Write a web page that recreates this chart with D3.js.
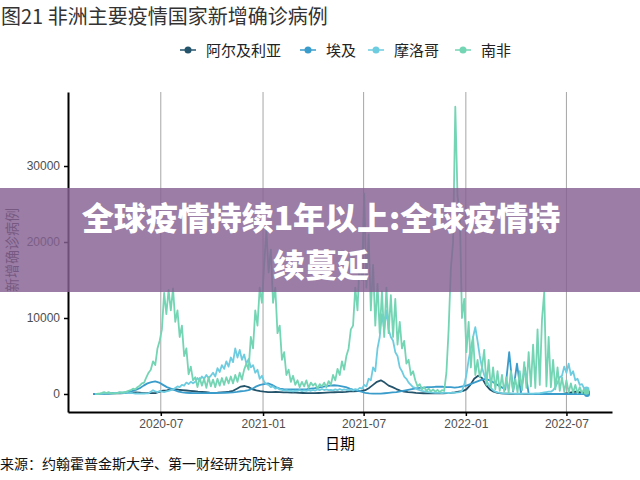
<!DOCTYPE html>
<html lang="zh">
<head>
  <meta charset="UTF-8">
  <title>图21 非洲主要疫情国家新增确诊病例</title>
  <script src="https://d3js.org/d3.v7.min.js"></script>
  <style>
    body { margin: 0; background: #fff; }
    svg { display: block; }
    .cjk { font-family: "Noto Sans CJK SC", sans-serif; }
    .tick text { font-family: "Liberation Sans", Arial, sans-serif; font-size: 12px; fill: #4d4d4d; }
  </style>
</head>
<body>
  <svg width="640" height="480"></svg>
  <script>
    // series names and colours (legend order)
    const countries = ["阿尔及利亚", "埃及", "摩洛哥", "南非"];
    const colors = ["#24546b", "#3a9ccb", "#6dcce0", "#74d5b4"];

    // Algeria / Egypt: one value per week starting 2020-03-01
    const weeklyStart = "2020-03-01";
    const algeriaCases = [
      0, 2, 10, 30, 50,  90, 100, 95, 130,  170, 180, 200, 190, 120,  110, 115, 120, 290,
      430, 480, 600, 650,  560, 520, 460, 410, 360,  300, 260, 230, 170,  150, 170, 210, 250,
      300, 420, 700, 980, 1050,  900, 620, 480, 380,
      300, 250, 240, 260, 240,  220, 200, 180, 170,  150, 130, 110, 110,  110, 130, 160, 190,
      210, 230, 240, 250, 280,  340, 360, 380, 400,  500, 800, 1200, 1600,  1800, 1500, 1100, 900, 650,
      450, 320, 250, 200,  150, 120, 100, 90, 85,  80, 85, 90, 110,  150, 200, 300, 380,
      600, 1200, 2000, 2400, 2100,  1200, 600, 300, 150,  80, 50, 30, 20,  15, 10, 8, 6,
      5, 5, 5, 6, 8,  10, 12, 20, 40,  100, 200, 300, 250, 200,  150
    ];
    const egyptCases = [
      0, 5, 20, 40, 60,  100, 130, 170, 190,  270, 380, 540, 750, 1100,  1400, 1550, 1650, 1500,
      1200, 900, 700, 500,  300, 200, 150, 130, 120,  120, 115, 120, 130,  130, 140, 150, 160,
      180, 220, 280, 360, 400,  500, 700, 1000, 1200,
      1300, 1400, 1200, 900, 700,  650, 620, 600, 600,  600, 620, 640, 700,  760, 850, 950, 1050,
      1100, 1150, 1100, 1000, 900,  700, 550, 450, 300,  150, 80, 60, 50,  60, 100, 150, 200, 250,
      350, 450, 550, 650,  750, 800, 850, 900, 900,  950, 950, 950, 900,  900, 850, 900, 1000,
      1100, 1300, 1500, 1700, 1900,  2000, 1800, 1500, 1200,  900, 600, 5500, 300,  4000, 150, 3500, 50,
      0, 0, 0, 0, 0,  0, 0, 0, 0,  0, 0, 0, 0, 0,  0
    ];

    // Morocco / South Africa: one value every 4 days starting 2020-03-05
    const fourDayStart = "2020-03-05";
    const moroccoCases = [
      0, 2, 10, 20, 40, 60, 80,
      100, 90, 160, 120, 150, 180, 130, 170,
      120, 150, 100, 60, 90, 50, 80,
      60, 90, 100, 300, 500, 330, 250, 400,
      300, 250, 350, 400, 500, 600, 800, 1000,
      900, 1200, 1100, 1500, 1300, 1600, 1400,
      1600, 2100, 1800, 2300, 2000, 2500, 2100, 2400,
      2800, 2300, 3400, 2900, 3800, 3300, 4300, 3600,
      4800, 4200, 6000, 4800, 5800, 4500, 5200,
      4000, 4600, 3500, 3800, 2800, 3200, 2000, 2400,
      1600, 1300, 1200, 900, 1000, 700, 800, 600,
      550, 450, 500, 400, 450, 350, 450,
      400, 500, 380, 480, 400, 500, 420,
      550, 450, 600, 500, 650, 520, 600, 500,
      550, 480, 600, 500, 650, 520, 600, 550,
      500, 600, 450, 650, 550, 800, 700,
      1200, 1000, 2000, 1800, 3500, 3000, 6000, 7500,
      10500, 8500, 11000, 8500, 7500, 7000, 5500, 5000,
      3500, 3000, 2300, 2000, 1500, 1200, 900,
      800, 600, 500, 400, 350, 300, 250, 200,
      180, 150, 150, 140, 130, 150, 140,
      130, 150, 160, 180, 200, 250, 400, 1200,
      2500, 4500, 6000, 7500, 8800, 7000, 5000, 3500,
      2500, 1800, 1200, 800, 500, 300, 200,
      150, 100, 80, 60, 50, 40, 40, 30,
      30, 30, 30, 40, 40, 50, 50,
      60, 70, 80, 100, 150, 200, 250, 300,
      300, 500, 900, 1500, 2200, 2400, 3600,
      2800, 4000, 2500, 3000, 1800, 2000, 1200, 1300,
      700, 600
    ];
    const southAfricaCases = [
      10, 30, 60, 150, 250, 120, 240,
      100, 90, 80, 110, 250, 160, 250, 300,
      400, 500, 700, 600, 900, 1100, 1400,
      1500, 2200, 2800, 3200, 4300, 3800, 6000, 7000,
      8500, 13300, 10500, 13700, 11000, 13900, 9500, 11000,
      7500, 9000, 5000, 6000, 2600, 3600, 1800,
      2200, 900, 2100, 1100, 2000, 800, 2200, 1000,
      1900, 900, 2000, 1100, 2100, 1200, 2200, 1400,
      2300, 1400, 2500, 1600, 2800, 1900, 3200,
      4000, 3200, 7500, 6000, 11000, 9000, 14000, 12000,
      17000, 21500, 16000, 19000, 12000, 14000, 8000, 9000,
      4500, 5500, 2500, 3200, 1600, 2400, 1200,
      1800, 900, 1600, 1000, 1800, 800, 1500,
      1100, 1400, 700, 1300, 1000, 1500, 900, 1700,
      1200, 2500, 1800, 3300, 2500, 4300, 3200, 5000,
      6000, 8500, 9000, 14000, 11000, 18000, 15000,
      26400, 14000, 21000, 11000, 17000, 9000, 14500, 8000,
      13500, 7500, 14000, 8000, 13000, 7500, 12500, 6500,
      9500, 6000, 7000, 4000, 4500, 2500, 3000,
      1800, 1000, 1300, 600, 900, 400, 700, 350,
      600, 300, 550, 250, 500, 400, 2800,
      8500, 16500, 20000, 37800, 26000, 24000, 10000, 12500,
      5500, 9500, 3500, 7500, 2500, 4500, 2200, 3500,
      5800, 1200, 4500, 800, 3500, 600, 3000,
      400, 2500, 300, 2200, 200, 3000, 400, 2000,
      200, 3000, 500, 4200, 800, 5500, 1000,
      6500, 800, 8500, 1200, 9800, 13400, 1000, 7500,
      900, 4500, 600, 3500, 400, 2200, 300,
      1800, 200, 1400, 150, 1200, 100, 900, 100,
      700, 300
    ];

    const xTickDates = ["2020-07-01", "2021-01-01", "2021-07-01", "2022-01-01", "2022-07-01"];
    const yTickValues = [0, 10000, 20000, 30000];

    const parse = d3.utcParse("%Y-%m-%d");
    function toPoints(start, stepDays, values) {
      const t0 = parse(start);
      return values.map((v, i) => ({ date: d3.utcDay.offset(t0, i * stepDays), value: v }));
    }
    const series = [
      toPoints(weeklyStart, 7, algeriaCases),
      toPoints(weeklyStart, 7, egyptCases),
      toPoints(fourDayStart, 4, moroccoCases),
      toPoints(fourDayStart, 4, southAfricaCases)
    ];

    const svg = d3.select("svg");
    const plotLeft = 68, plotRight = 612, plotTop = 92, plotBottom = 412;

    const x = d3.scaleUtc()
      .domain([parse("2020-01-16"), parse("2022-09-21")])
      .range([plotLeft, plotRight]);
    const y = d3.scaleLinear()
      .domain([-2370, 39740])
      .range([plotBottom, plotTop]);

    // title
    svg.append("text").attr("class", "cjk")
      .attr("x", 1).attr("y", 24)
      .style("font-size", "20px").style("fill", "#333")
      .text("图21 非洲主要疫情国家新增确诊病例");

    // vertical grid lines
    svg.append("g").selectAll("line")
      .data(xTickDates.map(parse))
      .join("line")
      .attr("x1", d => x(d)).attr("x2", d => x(d))
      .attr("y1", plotTop).attr("y2", plotBottom)
      .attr("stroke", "#a6a6a6").attr("stroke-width", 1);

    // lines
    const line = d3.line().x(d => x(d.date)).y(d => y(d.value));
    svg.append("g").selectAll("path")
      .data(series)
      .join("path")
      .attr("d", line)
      .attr("fill", "none")
      .attr("stroke", (d, i) => colors[i])
      .attr("stroke-width", 1.8)
      .attr("stroke-linejoin", "round");

    svg.append("g").selectAll("circle")
      .data(series)
      .join("circle")
      .attr("cx", d => x(d[d.length - 1].date))
      .attr("cy", d => y(d[d.length - 1].value))
      .attr("r", 3)
      .attr("fill", (d, i) => colors[i]);

    // axes
    const xAxis = svg.append("g")
      .attr("transform", `translate(0,${plotBottom})`)
      .call(d3.axisBottom(x).tickValues(xTickDates.map(parse))
        .tickFormat(d3.utcFormat("%Y-%m")).tickSize(4).tickSizeOuter(0).tickPadding(3));
    const yAxis = svg.append("g")
      .attr("transform", `translate(${plotLeft},0)`)
      .call(d3.axisLeft(y).tickValues(yTickValues).tickFormat(d3.format("d"))
        .tickSize(4).tickSizeOuter(0).tickPadding(4));
    [xAxis, yAxis].forEach(a => {
      a.select(".domain").attr("stroke", "#000").attr("stroke-width", 2);
      a.selectAll(".tick line").attr("stroke", "#000").attr("stroke-width", 1.5);
    });

    // axis titles
    svg.append("text").attr("class", "cjk")
      .attr("x", 340).attr("y", 449)
      .attr("text-anchor", "middle")
      .style("font-size", "15px").style("fill", "#000")
      .text("日期");
    svg.append("text").attr("class", "cjk")
      .attr("transform", "translate(17,250) rotate(-90)")
      .attr("text-anchor", "middle")
      .style("font-size", "14px").style("fill", "#333")
      .text("新增确诊病例");

    // legend
    const legendX = [180, 300, 368, 455];
    const legend = svg.append("g").selectAll("g")
      .data(countries)
      .join("g")
      .attr("transform", (d, i) => `translate(${legendX[i]},50)`);
    legend.append("line")
      .attr("x1", 0).attr("x2", 16)
      .attr("stroke", (d, i) => colors[i]).attr("stroke-width", 1.5);
    legend.append("circle")
      .attr("cx", 8).attr("r", 3.5)
      .attr("fill", (d, i) => colors[i]);
    legend.append("text").attr("class", "cjk")
      .attr("x", 26).attr("y", 5.5)
      .style("font-size", "15px").style("fill", "#222")
      .text(d => d);

    // source note
    svg.append("text").attr("class", "cjk")
      .attr("x", 0).attr("y", 469)
      .style("font-size", "14px").style("fill", "#111")
      .text("来源：约翰霍普金斯大学、第一财经研究院计算");

    // overlay banner
    svg.append("rect")
      .attr("x", 0).attr("y", 188)
      .attr("width", 640).attr("height", 104)
      .attr("fill", "rgb(133,96,145)").attr("opacity", 0.82);
    const bannerLines = ["全球疫情持续1年以上:全球疫情持", "续蔓延"];
    svg.append("g").selectAll("text")
      .data(bannerLines)
      .join("text").attr("class", "cjk")
      .attr("x", 321).attr("y", (d, i) => 230 + i * 47)
      .attr("text-anchor", "middle")
      .style("font-size", "32px").style("font-weight", 900).style("fill", "#fff")
      .text(d => d);
  </script>
</body>
</html>
